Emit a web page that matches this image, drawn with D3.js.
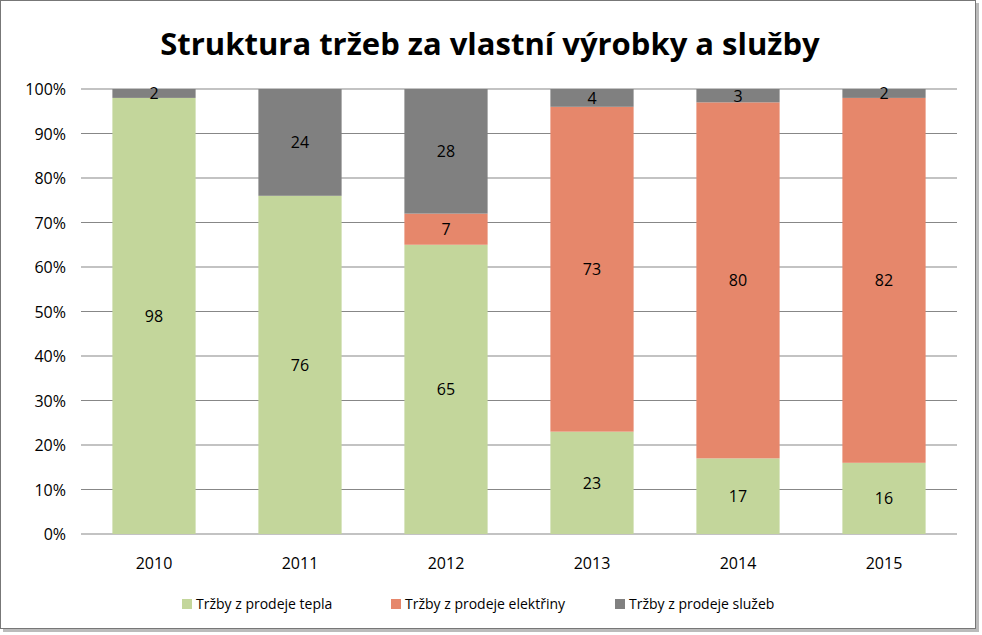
<!DOCTYPE html>
<html><head><meta charset="utf-8">
<script src="https://cdn.jsdelivr.net/npm/d3@7"></script>
<style>body{margin:0;background:#fff}svg{display:block}text{font-family:"Open Sans","DejaVu Sans",sans-serif}</style>
</head><body><svg id="c" width="982" height="635"></svg>
<script>
const years = ["2010","2011","2012","2013","2014","2015"];
const seriesNames = ["Tržby z prodeje tepla","Tržby z prodeje elektřiny","Tržby z prodeje služeb"];
const teplo = [98,76,65,23,17,16];
const elektrina = [0,0,7,73,80,82];
const sluzby = [2,24,28,4,3,2];
const colors = ["#C3D69B","#E6876B","#808080"];
const yTicks = [0,10,20,30,40,50,60,70,80,90,100];

const svg = d3.select("#c");
svg.append("rect").attr("x",3).attr("y",3).attr("width",976).attr("height",629).attr("fill","#bbb");
svg.append("rect").attr("x",0.5).attr("y",0.5).attr("width",975).attr("height",628).attr("fill","#fff").attr("stroke","#777");
svg.append("text").attr("x",490).attr("y",55).attr("text-anchor","middle").attr("font-size",31).attr("font-weight","bold").attr("fill","#000").text("Struktura tržeb za vlastní výrobky a služby");

const x = d3.scaleBand().domain(years).range([81,957]).paddingInner(0.43).paddingOuter(0.215);
const y = d3.scaleLinear().domain([0,100]).range([534,89]);
const g = svg.append("g");
yTicks.forEach(t=>{
  g.append("line").attr("x1",81).attr("x2",957).attr("y1",y(t)).attr("y2",y(t)).attr("stroke","#878787").attr("stroke-width",1);
  g.append("text").attr("x",66).attr("y",y(t)+6).attr("text-anchor","end").attr("font-size",16).attr("fill","#000").text(t+"%");
});
const rows = years.map((yr,i)=>({year:yr,a:teplo[i],b:elektrina[i],c:sluzby[i]}));
const stack = d3.stack().keys(["a","b","c"])(rows);
stack.forEach((layer,k)=>{
  layer.forEach(d=>{
    const v = d[1]-d[0];
    if(v<=0) return;
    g.append("rect").attr("x",x(d.data.year)).attr("width",x.bandwidth()).attr("y",y(d[1])).attr("height",y(d[0])-y(d[1])).attr("fill",colors[k]);
    g.append("text").attr("x",x(d.data.year)+x.bandwidth()/2).attr("y",(y(d[0])+y(d[1]))/2+6).attr("text-anchor","middle").attr("font-size",16).attr("fill","#000").text(v);
  });
});
years.forEach(yr=>g.append("text").attr("x",x(yr)+x.bandwidth()/2).attr("y",569).attr("text-anchor","middle").attr("font-size",16).text(yr));
const legX=[182,391,615];
seriesNames.forEach((n,i)=>{
  svg.append("rect").attr("x",legX[i]).attr("y",599).attr("width",10).attr("height",10).attr("fill",colors[i]);
  svg.append("text").attr("x",legX[i]+14).attr("y",609).attr("font-size",14).text(n);
});
</script></body></html>
